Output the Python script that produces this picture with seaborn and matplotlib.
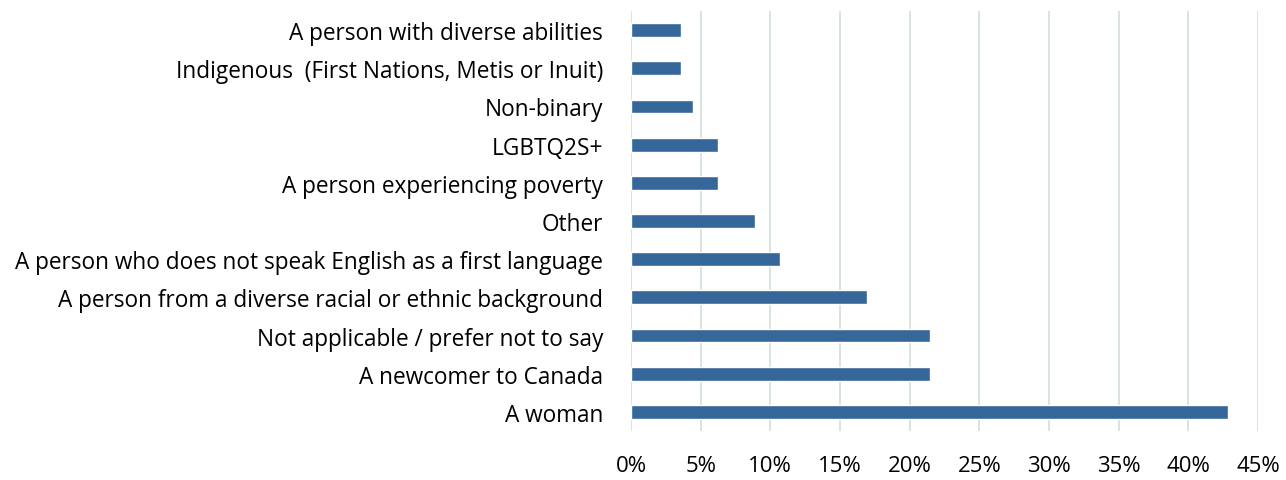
import matplotlib
matplotlib.use("Agg")
import matplotlib.pyplot as plt
import seaborn as sns
import pandas as pd
from matplotlib.ticker import FuncFormatter, MultipleLocator

categories = [
    "A person with diverse abilities",
    "Indigenous  (First Nations, Metis or Inuit)",
    "Non-binary",
    "LGBTQ2S+",
    "A person experiencing poverty",
    "Other",
    "A person who does not speak English as a first language",
    "A person from a diverse racial or ethnic background",
    "Not applicable / prefer not to say",
    "A newcomer to Canada",
    "A woman",
]
values = [3.57, 3.57, 4.46, 6.25, 6.25, 8.93, 10.71, 16.96, 21.43, 21.43, 42.86]

df = pd.DataFrame({"category": categories, "value": values})

sns.set_theme(style="white")
plt.rcParams["font.family"] = ["Open Sans", "DejaVu Sans"]

fig = plt.figure(figsize=(12.86, 4.81), dpi=100)
ax = fig.add_axes([631 / 1286, 1 - 432 / 481, (1258 - 631) / 1286, 420 / 481])

sns.barplot(data=df, x="value", y="category", order=categories, color="#35679a",
            width=0.36, saturation=1, ax=ax, zorder=3)

ax.set_xlim(0, 45)
ax.xaxis.set_major_locator(MultipleLocator(5))
ax.xaxis.set_major_formatter(FuncFormatter(lambda v, p: f"{v:.0f}%"))
ax.grid(axis="x", color="#d6e2dc", linewidth=1.3, zorder=0)
ax.grid(axis="y", visible=False)
for s in ax.spines.values():
    s.set_visible(False)
ax.set_xlabel("")
ax.set_ylabel("")
ax.tick_params(axis="x", length=0, pad=17, labelsize=16, colors="#000000")
ax.tick_params(axis="y", length=0, pad=20, labelsize=16.3, colors="#000000")

fig.savefig("out.png", dpi=100)
